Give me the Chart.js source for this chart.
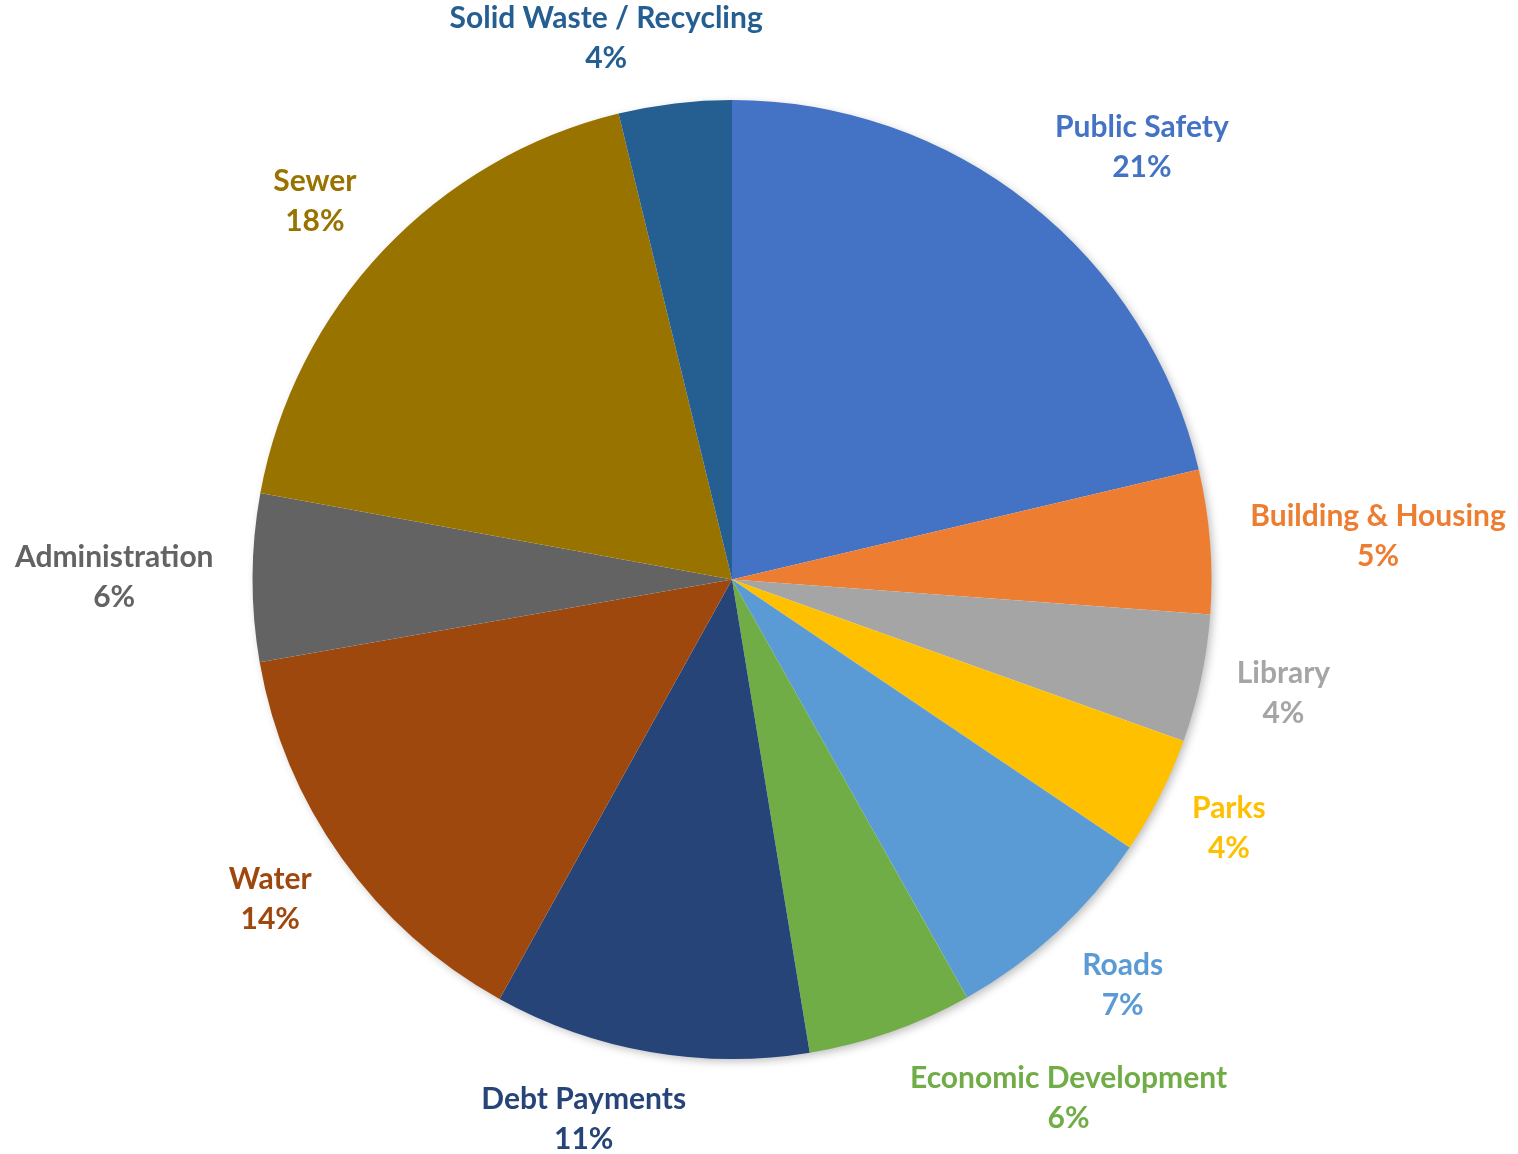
<!DOCTYPE html>
<html>
<head>
<meta charset="utf-8">
<title>Budget by Department</title>
<script src="https://cdn.jsdelivr.net/npm/chart.js@4/dist/chart.umd.min.js"></script>
<style>
  html, body { margin: 0; padding: 0; background: #fff; }
  #wrap { width: 1518px; height: 1154px; position: relative; }
</style>
</head>
<body>
<div id="wrap"><canvas id="budget-chart"></canvas></div>
<script>
// share of the budget per department, clockwise from 12 o'clock
const departments = [
    'Public Safety', 'Building & Housing', 'Library', 'Parks', 'Roads',
    'Economic Development', 'Debt Payments', 'Water', 'Administration',
    'Sewer', 'Solid Waste / Recycling'
];
const shares = [21.3, 4.85, 4.3, 3.97, 7.4, 5.56, 10.64, 14.18, 5.64, 18.3, 3.8];
const sliceColors = [
    '#4472C4', '#ED7D31', '#A5A5A5', '#FFC000', '#5B9BD5',
    '#70AD47', '#264478', '#9E480E', '#636363', '#997300', '#255E91'
];

const labelFont = '700 30px Lato';
const lineHeight = 40;

// soft drop shadow behind the whole pie
const pieShadow = {
    id: 'pieShadow',
    beforeDatasetsDraw(chart) {
        const arc = chart.getDatasetMeta(0).data[0];
        if (!arc) return;
        const ctx = chart.ctx;
        ctx.save();
        ctx.shadowColor = 'rgba(0,0,0,0.28)';
        ctx.shadowBlur = 10;
        ctx.shadowOffsetX = 3;
        ctx.shadowOffsetY = 3;
        ctx.fillStyle = '#ffffff';
        ctx.beginPath();
        ctx.arc(arc.x, arc.y, arc.outerRadius - 1, 0, Math.PI * 2);
        ctx.fill();
        ctx.restore();
    }
};

// category name + percentage outside each slice, in the slice colour
const outsideLabels = {
    id: 'outsideLabels',
    afterDatasetsDraw(chart) {
        const ctx = chart.ctx;
        const data = chart.data.datasets[0].data;
        const total = data.reduce((a, b) => a + b, 0);
        ctx.save();
        ctx.font = labelFont;
        ctx.textAlign = 'center';
        ctx.textBaseline = 'middle';
        chart.getDatasetMeta(0).data.forEach((arc, i) => {
            const mid = (arc.startAngle + arc.endAngle) / 2;
            const ux = Math.cos(mid), uy = Math.sin(mid);
            const r = arc.outerRadius + 34;
            const px = arc.x + ux * r;
            const py = arc.y + uy * r;
            const lines = [departments[i], Math.round(data[i] / total * 100) + '%'];
            const w = Math.max(...lines.map(t => ctx.measureText(t).width));
            const h = lineHeight * 2;
            const sx = Math.max(-1, Math.min(1, ux * 3.3)) * 1.05;
            const sy = Math.max(-0.78, Math.min(0.85, uy * 0.95));
            const cx = px + sx * w / 2;
            const cy = py + sy * h / 2;
            ctx.fillStyle = sliceColors[i];
            ctx.fillText(lines[0], cx, cy - lineHeight / 2);
            ctx.fillText(lines[1], cx, cy + lineHeight / 2);
        });
        ctx.restore();
    }
};

new Chart(document.getElementById('budget-chart'), {
    type: 'pie',
    data: {
        labels: departments,
        datasets: [{
            data: shares,
            backgroundColor: sliceColors,
            borderWidth: 0
        }]
    },
    options: {
        responsive: true,
        maintainAspectRatio: false,
        animation: false,
        layout: { padding: { top: 100, bottom: 95, left: 252, right: 306 } },
        plugins: {
            legend: { display: false },
            tooltip: { enabled: false }
        }
    },
    plugins: [pieShadow, outsideLabels]
});
</script>
</body>
</html>
